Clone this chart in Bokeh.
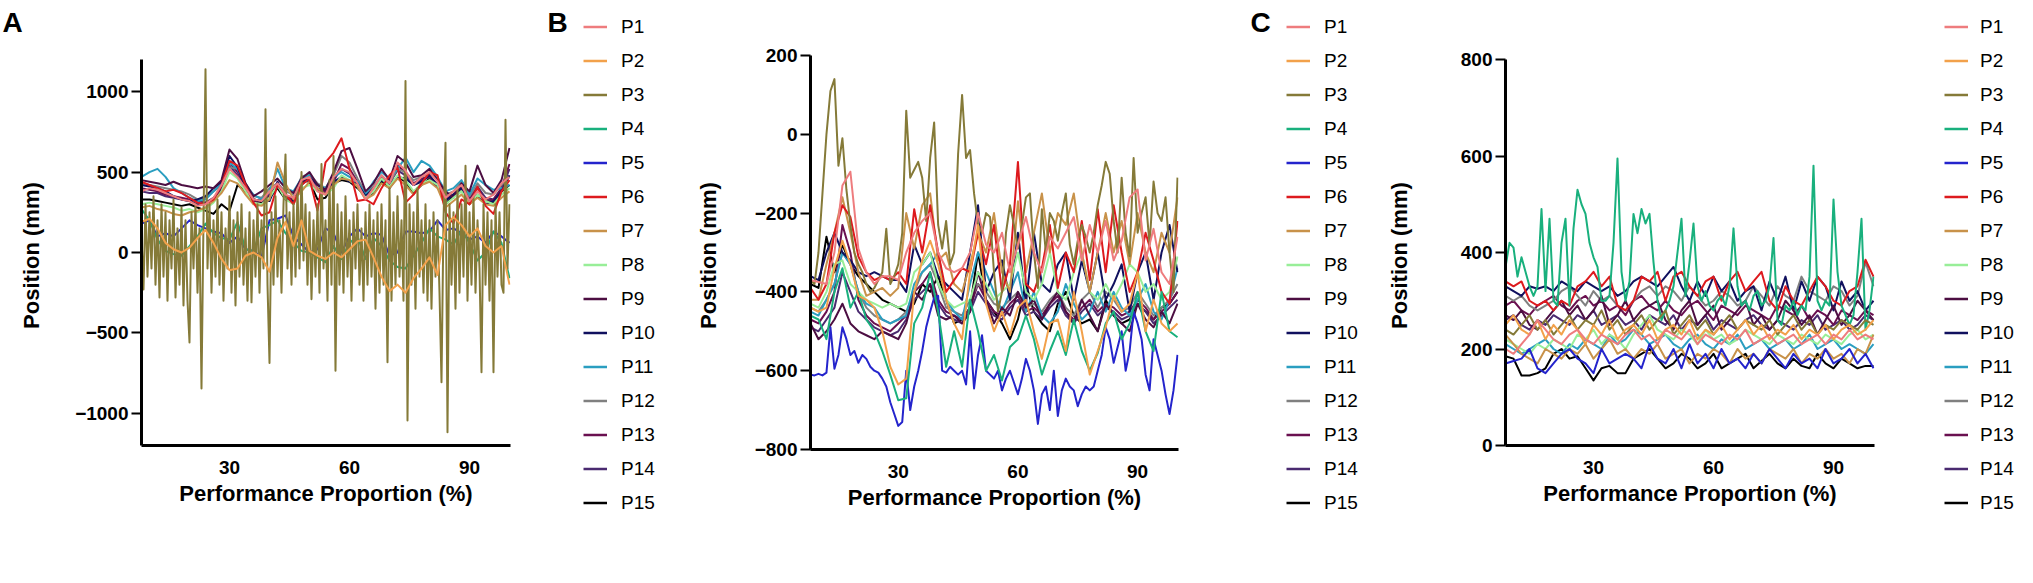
import numpy as np
from bokeh.plotting import figure
from bokeh.models import Range1d, Legend, LegendItem, Label, FixedTicker, ColumnDataSource
from bokeh.layouts import row, column
from bokeh.embed import file_html
from bokeh.resources import INLINE

# ---------------- shared ----------------
NAMES = ["P%d" % i for i in range(1, 16)]
COLORS = ["#EE7C7E", "#F2A14B", "#857A38", "#19B07D", "#2424CC", "#DD1A1E",
          "#C8924A", "#98EE98", "#4C0E42", "#10105E", "#2A9EC0", "#808080",
          "#6A1050", "#4A2A70", "#000000"]
X_TICKS = [30, 60, 90]
X_START, X_END = 8, 100

# ---------------- panel A (x = 8..100) ----------------
A_P1 = [380,400,390,370,350,330,320,290,300,340,420,520,470,400,330,320,380,430,360,340,450,470,380,360,470,520,500,430,330,400,480,430,560,510,420,470,500,440,340,380,420,320,380,330,360,430,470]
A_P2 = [190,210,150,60,20,0,30,90,140,60,-40,-110,-100,-20,0,-30,-120,90,190,40,200,10,-20,-40,0,-30,20,70,80,-30,-150,-240,-200,-250,-160,-100,-30,-140,170,220,170,100,150,40,0,40,-200]
A_P3 = [100,-230,300,-150,250,-100,350,-200,200,-280,300,
        -150,250,-300,200,-100,330,-280,150,-200,280,
        -330,200,-300,-560,250,-100,300,-250,150,-845,
        200,1140,-100,300,-250,200,-150,330,-200,250,
        -300,150,-100,350,-250,200,-330,250,-150,300,
        -200,150,-300,250,-310,200,-150,300,-250,200,
        -100,890,-200,-687,250,-200,350,-150,200,-250,
        300,610,-100,250,-200,300,-150,400,-100,500,
        -50,300,-200,250,-290,200,-150,300,-250,550,
        -100,200,-300,450,-200,600,-735,300,-200,250,
        -250,350,-150,200,-300,250,-100,300,-200,150,
        -300,250,-200,300,-150,200,-350,250,-250,300,
        -200,200,-683,400,-300,250,-200,350,-150,200,
        -300,1066,-1045,300,-200,250,-350,400,-150,200,
        -250,300,-300,200,-350,250,-150,200,-250,-807,
        200,683,-1118,300,-200,250,-350,400,-250,300,
        -150,539,-300,250,-200,350,-250,200,-100,-745,
        300,-200,250,-300,200,-745,300,-150,250,-200,
        -250,826,-100,300]
A_P4 = [270,200,80,10,-10,-20,40,100,180,120,90,80,190,20,10,150,170,200,120,60,10,0,-30,-60,40,-40,60,100,-40,90,40,-50,-90,-100,-20,60,150,100,80,50,140,60,-50,0,130,60,-160]
A_P5 = [180,200,100,120,100,150,200,170,150,130,120,60,100,20,10,-30,200,210,230,100,50,0,20,150,120,0,100,150,100,120,110,-20,0,130,130,120,130,200,140,150,120,80,100,60,130,100,60]
A_P6 = [440,420,400,380,390,370,340,310,300,330,420,570,540,420,310,230,250,420,360,300,420,460,260,560,620,710,520,320,330,300,400,480,530,310,360,430,500,480,250,180,330,300,410,290,240,380,450]
A_P7 = [280,290,270,260,240,230,250,260,280,320,370,450,430,360,300,290,330,560,430,330,380,440,400,360,420,460,450,410,330,360,430,400,460,420,360,420,440,400,280,320,360,300,340,300,290,340,380]
A_P8 = [300,310,300,290,280,260,270,250,270,310,380,500,460,380,310,300,340,420,330,300,400,420,380,360,400,480,450,410,340,380,460,410,480,450,380,430,450,420,300,340,380,300,360,320,300,360,400]
A_P9 = [450,440,430,420,440,420,410,400,410,400,450,640,580,430,350,380,420,460,400,370,460,500,420,390,500,630,650,520,380,430,520,450,600,560,470,480,520,450,380,340,430,380,540,420,370,450,650]
A_P10 = [420,410,400,380,350,330,320,330,350,400,440,600,530,400,330,320,320,440,330,320,420,470,420,390,440,470,440,430,350,400,450,420,470,460,420,440,480,420,320,360,400,310,360,300,320,380,480]
A_P11 = [470,500,520,470,400,370,340,320,330,380,430,560,520,420,360,330,380,520,400,380,460,480,420,400,470,500,470,440,360,440,500,460,520,590,500,570,540,470,380,400,450,360,460,420,390,400,420]
A_P12 = [430,420,410,400,390,380,360,330,340,380,420,530,520,430,350,340,400,430,380,360,470,490,430,400,480,600,560,460,370,410,480,430,520,500,450,470,490,460,360,380,440,350,430,370,360,420,470]
A_P13 = [400,390,380,360,350,340,330,320,310,330,400,560,500,410,320,300,350,420,340,330,440,460,400,380,440,550,520,440,340,390,470,420,540,500,430,460,470,420,330,360,410,330,400,320,330,400,550]
A_P14 = [380,370,370,350,340,330,320,300,310,340,390,540,480,400,330,320,360,410,350,340,430,450,390,370,450,520,490,430,350,380,460,430,510,480,420,450,470,410,350,360,410,340,410,340,330,390,520]
A_P15 = [330,330,320,310,300,290,300,280,260,240,300,260,420,380,330,310,340,400,330,320,450,440,330,340,430,450,440,400,350,370,440,400,470,440,370,420,460,410,300,350,400,300,350,330,310,380,420]
A_TICKS = [-1000, -500, 0, 500, 1000]

# ---------------- panel B ----------------
B_P1 = [-370,-375,-380,-300,-130,-95,-290,-350,-380,-360,-360,-370,-300,-250,-220,-200,-300,-340,-350,-340,-300,-200,-280,-300,-250,-350,-280,-210,-300,-350,-260,-290,-250,-210,-320,-230,-300,-220,-320,-270,-160,-140,-320,-240,-350,-380,-260]
B_P2 = [-440,-450,-440,-340,-270,-330,-410,-420,-440,-500,-590,-635,-620,-400,-320,-270,-330,-420,-480,-520,-350,-230,-430,-500,-450,-510,-440,-420,-500,-570,-480,-470,-550,-400,-500,-610,-550,-490,-410,-450,-430,-350,-500,-420,-480,-500,-480]
B_P3 = [-370,-380,-300,-150,0,110,140,-80,-10,-140,
        -230,-300,-330,-350,-380,-400,-390,-370,-350,-240,
        -380,-360,-330,-250,60,-110,-90,-70,-110,-220,
        -60,30,-230,-290,-220,-330,-300,-50,100,-60,
        -40,-150,-230,-250,-200,-210,-350,-450,-400,-250,
        -180,-230,-290,-230,-160,-150,-300,-390,-190,-300,
        -200,-220,-270,-200,-150,-280,-330,-270,-230,-260,
        -300,-250,-180,-130,-70,-100,-220,-300,-110,-250,
        -310,-60,-250,-200,-160,-280,-120,-200,-220,-160,
        -300,-400,-110]
B_P4 = [-460,-470,-520,-400,-340,-440,-400,-470,-500,-550,-610,-675,-670,-480,-440,-350,-450,-590,-500,-590,-420,-500,-600,-560,-625,-540,-520,-460,-520,-610,-550,-500,-560,-470,-550,-600,-555,-480,-450,-520,-480,-400,-500,-550,-400,-500,-515]
B_P5 = [-610,-612,-608,-612,-605,-490,-595,-560,-490,-520,
        -560,-550,-580,-560,-570,-590,-600,-605,-620,-640,
        -680,-710,-740,-730,-600,-700,-640,-600,-550,-490,
        -450,-415,-410,-600,-605,-590,-600,-610,-600,-635,
        -500,-645,-560,-510,-600,-610,-620,-600,-650,-620,
        -600,-630,-660,-620,-570,-600,-650,-735,-660,-640,
        -700,-600,-715,-650,-620,-640,-650,-690,-660,-640,
        -650,-640,-600,-560,-490,-520,-580,-540,-500,-600,
        -550,-450,-480,-520,-610,-650,-520,-560,-600,-660,
        -710,-650,-560]
B_P6 = [-390,-420,-380,-250,-180,-210,-310,-350,-370,-360,-370,-350,-380,-190,-300,-180,-300,-400,-370,-340,-350,-250,-330,-230,-400,-330,-70,-380,-400,-340,-230,-390,-300,-350,-220,-370,-190,-350,-180,-300,-400,-350,-250,-320,-400,-430,-220]
B_P7 = [-420,-420,-330,-250,-160,-250,-350,-410,-400,-390,-410,-390,-200,-290,-180,-150,-320,-300,-380,-400,-330,-250,-300,-200,-350,-400,-170,-350,-250,-150,-300,-200,-230,-150,-300,-400,-300,-200,-300,-220,-330,-200,-300,-350,-250,-300,-160]
B_P8 = [-430,-440,-400,-330,-320,-380,-400,-420,-430,-440,-430,-440,-430,-350,-330,-300,-380,-420,-440,-430,-420,-350,-380,-420,-400,-380,-300,-400,-420,-380,-300,-400,-420,-350,-300,-400,-420,-380,-420,-380,-330,-350,-400,-380,-420,-400,-310]
B_P9 = [-480,-520,-500,-470,-430,-480,-500,-510,-520,-500,-510,-520,-480,-400,-420,-380,-460,-470,-460,-480,-450,-350,-420,-480,-440,-460,-400,-440,-420,-470,-430,-400,-450,-480,-420,-460,-500,-430,-460,-480,-500,-430,-470,-490,-450,-480,-430]
B_P10 = [-360,-370,-300,-250,-300,-320,-350,-360,-350,-360,-370,-370,-400,-280,-330,-300,-360,-380,-400,-420,-300,-180,-400,-350,-320,-420,-250,-430,-250,-380,-400,-330,-300,-420,-320,-400,-300,-420,-380,-330,-450,-350,-300,-420,-300,-230,-350]
B_P11 = [-450,-460,-420,-380,-300,-330,-400,-430,-440,-470,-480,-470,-460,-380,-350,-330,-300,-420,-450,-470,-380,-300,-350,-400,-450,-400,-350,-450,-400,-460,-480,-450,-380,-430,-470,-450,-400,-450,-400,-440,-460,-420,-380,-450,-470,-420,-340]
B_P12 = [-440,-450,-420,-380,-300,-330,-400,-440,-460,-470,-480,-470,-450,-400,-350,-330,-380,-440,-450,-460,-420,-380,-400,-430,-440,-420,-400,-440,-430,-450,-420,-400,-440,-460,-420,-400,-440,-400,-420,-450,-440,-400,-430,-460,-440,-420,-380]
B_P13 = [-470,-480,-450,-400,-230,-300,-420,-460,-480,-490,-500,-480,-460,-400,-380,-350,-420,-450,-460,-470,-440,-380,-420,-450,-460,-430,-410,-450,-440,-460,-430,-410,-450,-470,-440,-420,-450,-430,-440,-460,-450,-420,-440,-470,-450,-430,-400]
B_P14 = [-490,-500,-470,-440,-350,-400,-450,-470,-490,-500,-510,-500,-470,-420,-400,-380,-430,-460,-470,-480,-450,-400,-430,-460,-470,-440,-420,-460,-450,-470,-440,-420,-460,-480,-450,-430,-460,-440,-450,-470,-460,-430,-450,-480,-460,-440,-420]
B_P15 = [-380,-390,-260,-350,-280,-330,-360,-380,-400,-420,-430,-440,-450,-430,-380,-400,-360,-420,-480,-470,-440,-300,-420,-450,-480,-520,-470,-380,-450,-480,-500,-430,-400,-460,-480,-470,-500,-420,-460,-480,-470,-430,-450,-470,-440,-430,-400]
B_TICKS = [-800, -600, -400, -200, 0, 200]

# ---------------- panel C ----------------
C_P1 = [200,190,210,230,260,240,220,210,230,240,220,210,230,220,210,230,240,220,230,210,240,230,220,240,210,230,220,210,230,220,240,210,220,230,210,220,230,210,220,230,210,230,220,240,220,230,220]
C_P2 = [250,270,240,230,260,220,250,230,260,240,210,250,230,260,220,240,250,230,260,220,240,250,230,260,220,240,230,250,220,240,260,230,250,220,240,230,250,220,240,230,250,220,240,250,230,240,260]
C_P3 = [240,230,250,270,240,260,230,250,270,240,260,250,280,240,260,230,250,270,240,260,280,230,250,270,240,260,230,250,270,240,260,250,240,260,230,250,270,240,260,230,250,240,260,250,240,260,250]
C_P4 = [370,420,410,350,390,360,330,310,330,490,
        320,470,300,290,420,470,290,450,530,500,
        480,420,390,370,300,300,310,420,595,360,
        300,340,480,440,490,460,480,380,300,260,
        280,300,330,400,470,310,380,460,330,300,
        320,290,280,300,310,290,330,450,330,290,
        300,280,310,320,290,300,330,430,260,250,
        290,280,300,270,290,280,350,580,300,280,
        300,290,510,360,290,270,250,270,360,470,
        240,280,350]
C_P5 = [170,175,180,200,160,150,170,190,200,180,170,150,200,170,180,190,180,160,210,180,170,200,160,210,170,190,160,200,170,180,160,190,170,200,180,160,190,170,180,160,200,170,180,200,170,190,160]
C_P6 = [340,330,340,300,290,300,280,300,290,330,340,360,330,350,290,280,300,350,340,360,300,350,360,330,310,340,350,300,340,360,320,340,360,300,280,330,300,290,320,350,330,300,290,320,330,385,350]
C_P7 = [230,210,190,180,170,200,190,180,200,190,210,180,200,220,190,200,180,200,190,210,180,190,200,170,190,180,200,190,170,200,180,190,170,200,190,180,200,170,190,180,200,180,190,170,200,190,230]
C_P8 = [220,210,200,190,210,200,220,210,200,230,220,240,210,230,220,200,230,250,270,240,230,220,240,230,210,240,220,230,210,220,240,230,220,210,230,220,210,230,220,210,230,220,210,230,240,220,230]
C_P9 = [270,260,280,250,240,260,280,300,270,290,260,280,310,250,270,300,260,280,290,300,260,240,280,300,250,270,290,240,260,280,300,250,270,240,260,300,280,250,270,230,260,290,250,270,300,280,260]
C_P10 = [330,320,310,330,325,330,320,340,330,320,340,330,320,330,310,320,340,350,340,330,350,370,330,300,340,310,350,320,340,300,320,330,280,340,300,350,280,340,300,350,330,280,340,300,320,280,300]
C_P11 = [210,200,190,200,210,220,200,190,210,200,220,210,200,230,210,220,240,230,210,220,230,210,200,220,230,210,200,220,210,230,200,210,220,200,210,220,200,210,230,200,210,220,200,210,200,190,210]
C_P12 = [310,300,310,290,280,290,300,320,330,310,290,320,300,310,290,280,300,320,330,310,330,320,300,330,310,290,300,320,310,290,300,330,310,290,330,310,300,350,320,310,300,330,320,290,310,380,330]
C_P13 = [290,300,280,270,290,300,310,290,280,300,310,290,300,280,290,270,300,310,290,280,300,280,270,290,300,280,260,290,280,270,290,280,270,260,290,280,270,290,260,280,270,250,280,270,260,280,270]
C_P14 = [260,270,250,240,260,250,270,260,250,270,260,280,250,260,270,250,260,240,270,260,250,270,240,260,250,270,240,260,250,240,260,270,250,240,260,250,240,260,250,270,240,250,260,240,250,270,260]
C_P15 = [185,180,145,145,150,160,190,200,180,185,160,135,160,165,150,150,180,190,200,180,160,170,190,180,160,170,190,160,170,180,190,160,175,190,170,160,180,165,160,190,170,160,180,170,160,165,165]
C_TICKS = [0, 200, 400, 600, 800]

A_DATA = [A_P1, A_P2, A_P3, A_P4, A_P5, A_P6, A_P7, A_P8, A_P9, A_P10, A_P11, A_P12, A_P13, A_P14, A_P15]
B_DATA = [B_P1, B_P2, B_P3, B_P4, B_P5, B_P6, B_P7, B_P8, B_P9, B_P10, B_P11, B_P12, B_P13, B_P14, B_P15]
C_DATA = [C_P1, C_P2, C_P3, C_P4, C_P5, C_P6, C_P7, C_P8, C_P9, C_P10, C_P11, C_P12, C_P13, C_P14, C_P15]

FONT = "Liberation Sans"
H = 567


def panel(data, y0, y1, yticks, width, height, bl, br, bt, fh, title_standoff):
    p = figure(width=width, height=height, output_backend="svg", toolbar_location=None,
               x_range=Range1d(X_START, 100.25), y_range=Range1d(y0, y1),
               min_border_left=bl, min_border_right=br, min_border_top=bt,
               min_border_bottom=height - bt - fh, background_fill_color="white",
               border_fill_color="white", outline_line_color=None)
    p.frame_align = False
    p.grid.visible = False
    for i in reversed(range(15)):
        vals = data[i]
        xs = np.linspace(X_START, X_END, len(vals))
        p.line(xs, vals, line_color=COLORS[i], line_width=2, line_join="round")
    for ax in (p.xaxis[0], p.yaxis[0]):
        ax.axis_line_width = 3
        ax.axis_line_color = "black"
        ax.minor_tick_line_color = None
        ax.major_label_text_font = FONT
        ax.major_label_text_font_style = "bold"
        ax.major_label_text_font_size = "19px"
        ax.major_label_text_color = "black"
        ax.axis_label_text_font = FONT
        ax.axis_label_text_font_style = "bold"
        ax.axis_label_text_font_size = "22px"
        ax.axis_label_text_color = "black"
    p.xaxis.ticker = FixedTicker(ticks=X_TICKS)
    p.xaxis.major_tick_line_color = None
    p.xaxis.major_label_standoff = 9
    p.xaxis.axis_label = "Performance Proportion (%)"
    p.xaxis.axis_label_standoff = 4
    p.yaxis.ticker = FixedTicker(ticks=yticks)
    p.yaxis.major_tick_out = 10
    p.yaxis.major_tick_in = 0
    p.yaxis.major_tick_line_width = 2
    p.yaxis.major_label_standoff = 3
    p.yaxis.axis_label = "Position  (mm)"
    p.yaxis.axis_label_standoff = title_standoff
    return p


def blank(width, height):
    f = figure(width=width, height=height, output_backend="svg", toolbar_location=None,
               x_range=Range1d(0, 1), y_range=Range1d(0, 1),
               x_axis_type=None, y_axis_type=None, min_border=0,
               min_border_left=0, min_border_right=0, min_border_top=0, min_border_bottom=0,
               outline_line_color=None, background_fill_color="white",
               border_fill_color="white")
    f.frame_align = False
    return f


def letter(f, txt, x, y):
    f.add_layout(Label(x=x, y=y, x_units="screen", y_units="screen", text=txt,
                       text_font=FONT, text_font_style="bold", text_font_size="28px",
                       text_color="black", text_baseline="alphabetic"))


def legend_fig(width, gx, standoff, let=None):
    f = blank(width, H)
    items = []
    for i in range(15):
        # legend proxy: a single missing point, nothing is drawn in the plot area
        src = ColumnDataSource(data=dict(x=np.array([np.nan]), y=np.array([np.nan])))
        r = f.line("x", "y", source=src, line_color=COLORS[i], line_width=2.5)
        items.append(LegendItem(label=NAMES[i], renderers=[r]))
    leg = Legend(items=items, location=(gx, 49), orientation="vertical", padding=0, margin=0,
                 spacing=3, glyph_width=24, glyph_height=31, label_height=31,
                 label_standoff=standoff, label_text_font=FONT,
                 label_text_font_size="19px", label_text_color="black",
                 border_line_color=None, background_fill_alpha=0)
    f.add_layout(leg, "center")
    if let:
        letter(f, let[0], let[1], let[2])
    return f


# panel A with its letter strip above
stripA = blank(532, 45)
letter(stripA, "A", 2, 23)
pA = panel(A_DATA, -1200, 1200, A_TICKS, 532, H - 45, 141, 22, 14, 386, 28)
colA = column(stripA, pA)
legA = legend_fig(160, 51, 14, ("B", 15, 545))

pB = panel(B_DATA, -800, 200, B_TICKS, 540, H, 116, 54, 55, 394, 31)
legB = legend_fig(150, 54, 14, ("C", 18, 545))

pC = panel(C_DATA, 0, 800, C_TICKS, 550, H, 123, 58, 59, 386, 46)
legC = legend_fig(85, 12, 12)

layout = row(colA, legA, pB, legB, pC, legC)
open("out.html", "w").write(file_html(layout, INLINE))
